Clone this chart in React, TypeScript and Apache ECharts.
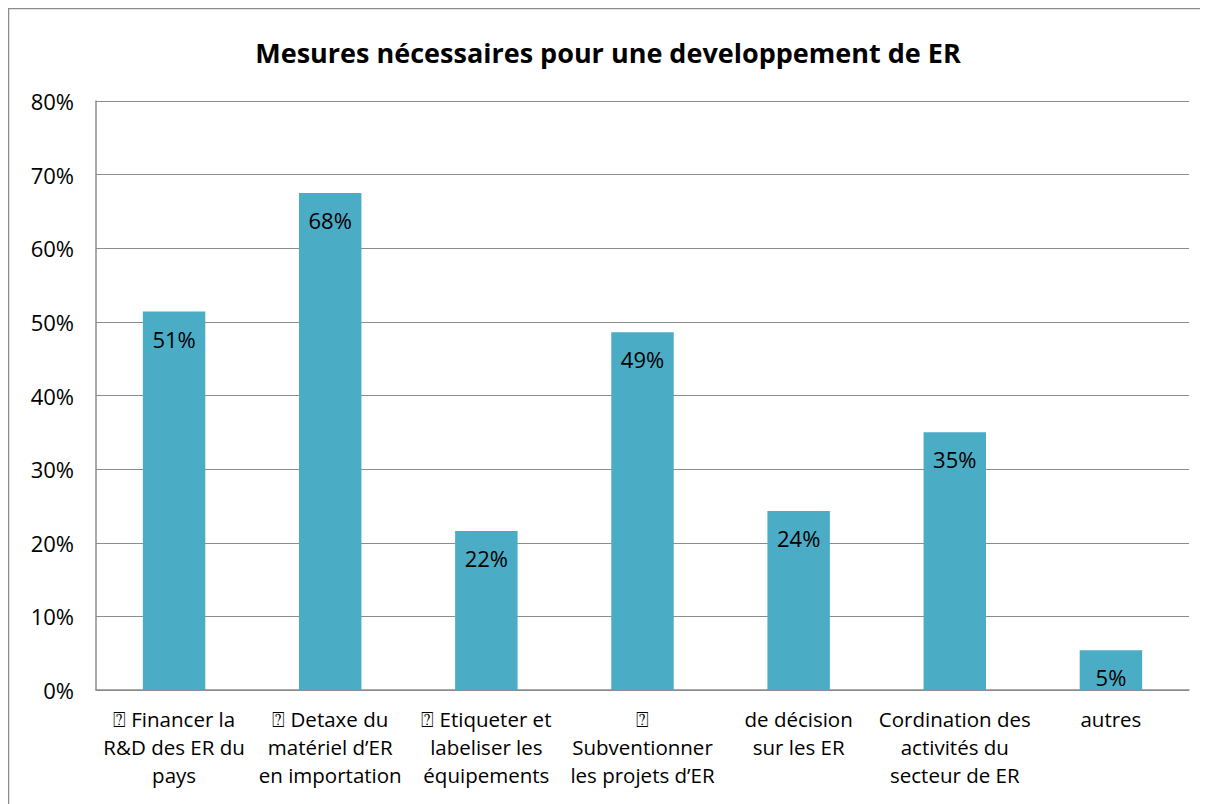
import React, { useEffect, useRef } from "react";
import * as echarts from "echarts";

const title = "Mesures nécessaires pour une developpement de ER";
const categories = [
  "\u2370 Financer la\nR&D des ER du\npays",
  "\u2370 Detaxe du\nmatériel d\u2019ER\nen importation",
  "\u2370 Etiqueter et\nlabeliser les\néquipements",
  "\u2370\nSubventionner\nles projets d\u2019ER",
  "de décision\nsur les ER",
  "Cordination des\nactivités du\nsecteur de ER",
  "autres",
];
const values = [0.514, 0.675, 0.216, 0.486, 0.243, 0.35, 0.054];
const yTicks = { min: 0, max: 0.8, interval: 0.1 };

const FONT = "'Open Sans', Lato, sans-serif";

export default function App() {
  const ref = useRef<HTMLDivElement>(null);
  useEffect(() => {
    if (!ref.current) return;
    const chart = echarts.init(ref.current, undefined, { renderer: "svg" });
    chart.setOption({
      animation: false,
      backgroundColor: "#ffffff",
      textStyle: { fontFamily: FONT },
      title: {
        text: title,
        left: "center",
        top: 26,
        textStyle: { fontFamily: FONT, fontSize: 27, fontWeight: "bold", color: "#000" },
      },
      graphic: [
        {
          type: "rect",
          shape: { x: 0.5, y: 0.5, width: 1400, height: 1000 },
          style: { fill: "none", stroke: "#8c8c8c", lineWidth: 1.5 },
          silent: true,
        },
      ],
      grid: { left: 88, right: 19, top: 93, bottom: 114, containLabel: false },
      xAxis: {
        type: "category",
        data: categories,
        axisLine: { show: true, lineStyle: { color: "#8c8c8c", width: 1.5 } },
        axisTick: { show: false },
        axisLabel: {
          interval: 0,
          color: "#000",
          fontFamily: FONT,
          fontSize: 20.5,
          lineHeight: 28,
          margin: 15,
          align: "center",
        },
      },
      yAxis: {
        type: "value",
        min: yTicks.min,
        max: yTicks.max,
        interval: yTicks.interval,
        axisLine: { show: true, lineStyle: { color: "#8c8c8c", width: 1.5 } },
        axisTick: { show: false },
        splitLine: { show: true, lineStyle: { color: "#8c8c8c", width: 1.2 } },
        axisLabel: {
          color: "#000",
          fontFamily: FONT,
          fontSize: 22,
          margin: 22,
          formatter: (v: number) => Math.round(v * 100) + "%",
        },
      },
      series: [
        {
          type: "bar",
          data: values,
          barWidth: "40%",
          itemStyle: { color: "#4BACC6" },
          label: {
            show: true,
            position: "insideTop",
            distance: 16,
            color: "#000",
            fontFamily: FONT,
            fontSize: 22,
            formatter: (p: any) => Math.round(p.value * 100) + "%",
          },
        },
      ],
    });
    return () => chart.dispose();
  }, []);
  return <div ref={ref} style={{ width: 1200, height: 796 }} />;
}
